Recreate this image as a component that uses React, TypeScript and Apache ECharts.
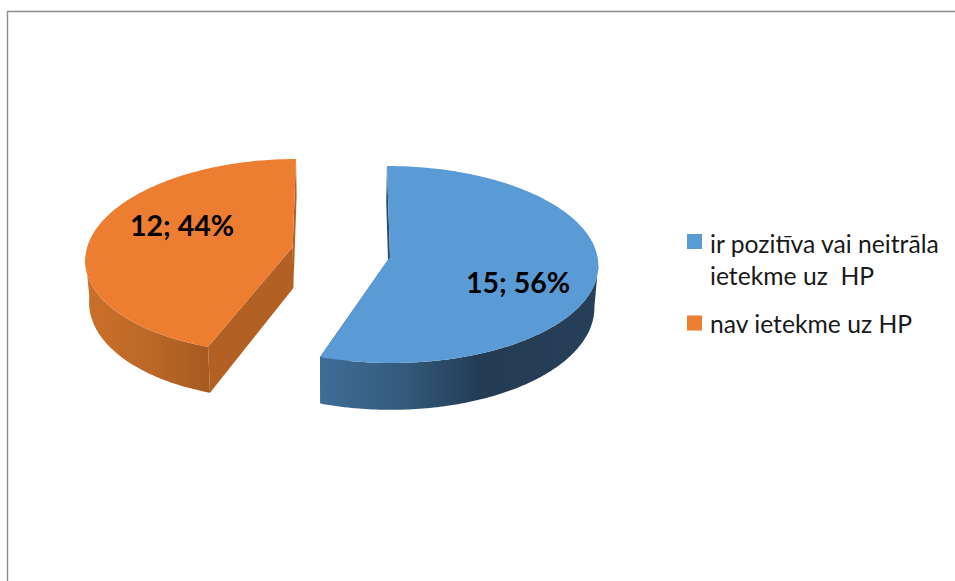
import React, { useEffect, useRef } from "react";
import * as echarts from "echarts";

const categories = ["ir pozitīva vai neitrāla\nietekme uz  HP", "nav ietekme uz HP"];
const values = [15, 12];

const FONT = "Lato, Carlito, Calibri, sans-serif";
const total = values.reduce((a, b) => a + b, 0);
const VANISH_X = 340;

// projection of each exploded slice: ellipse centre, radii, perspective shear
const geometry = [
  { cx: 389.3, cy: 264.5, rx: 209, ry: 98.5, k: 0.024, ax: 390, ay: 257, lx: 518, ly: 282,
    top: "#5B9BD5", wall: "#2A4A68",
    rim: [[0, "#3F6D96"], [0.3, "#335A7C"], [0.58, "#233B53"], [1, "#274059"]] },
  { cx: 286, cy: 255.8, rx: 200.5, ry: 96.8, k: -0.103, ax: 292.7, ay: 247, lx: 182, ly: 225,
    top: "#ED7D31", wall: "#B36024",
    rim: [[0, "#CB7029"], [0.5, "#BC6827"], [1, "#A65A20"]] },
];

const rad = (d: number) => (d * Math.PI) / 180;

function sliceGroup(index: number, value: number) {
  const g = geometry[index];
  const before = values.slice(0, index).reduce((a, b) => a + b, 0);
  const a0 = (before / total) * 360;
  const a1 = a0 + (value / total) * 360;
  const rimPoint = (t: number) => {
    const y = g.cy - g.ry * Math.cos(rad(t));
    return [g.cx + g.rx * Math.sin(rad(t)) + g.k * (y - g.cy), y];
  };
  const lower = (p: number[]) => [
    VANISH_X + (p[0] - VANISH_X) * 0.985,
    p[1] + 41 + (p[1] - 247) * 0.05,
  ];
  const arc = (from: number, to: number) => {
    const n = Math.max(2, Math.ceil(to - from));
    const pts: number[][] = [];
    for (let i = 0; i <= n; i++) pts.push(rimPoint(from + ((to - from) * i) / n));
    return pts;
  };
  const apex = [g.ax, g.ay];
  const wallOf = (p: number[]) => ({
    type: "polygon",
    shape: { points: [apex, p, lower(p), lower(apex)] },
    style: { fill: g.wall },
  });
  const visible = arc(Math.max(a0, 90), Math.min(a1, 270));
  const rimPoly = visible.concat(visible.map(lower).reverse());
  const text = `${value}; ${Math.round((value / total) * 100)}%`;
  return {
    type: "group",
    children: [
      wallOf(rimPoint(a0)),
      wallOf(rimPoint(a1)),
      {
        type: "polygon",
        shape: { points: rimPoly },
        style: {
          fill: {
            type: "linear", x: 0, y: 0, x2: 1, y2: 0,
            colorStops: g.rim.map(([offset, color]) => ({ offset, color })),
          },
        },
      },
      {
        type: "polygon",
        shape: { points: [apex, ...arc(a0, a1)] },
        style: { fill: g.top },
      },
      {
        type: "text",
        x: g.lx,
        y: g.ly,
        style: {
          text,
          fill: "#000",
          font: `bold 28.5px ${FONT}`,
          align: "center",
          verticalAlign: "middle",
        },
      },
    ],
  };
}

export default function App() {
  const ref = useRef<HTMLDivElement>(null);
  useEffect(() => {
    document.body.style.margin = "0";
    document.body.style.background = "#fff";
    const chart = echarts.init(ref.current!, undefined, { renderer: "svg" });
    const legendText = { fontFamily: FONT, fontSize: 24.7, color: "#1a1a1a", lineHeight: 32 };
    chart.setOption({
      animation: false,
      backgroundColor: "#fff",
      legend: [
        {
          data: [categories[0]],
          left: 687,
          top: 227,
          padding: 0,
          itemGap: 0,
          itemWidth: 18,
          itemHeight: 50,
          icon: "path://M0 0H15V15H0ZM18 50H18V50H18Z",
          textStyle: legendText,
          selectedMode: false,
        },
        {
          data: [categories[1]],
          left: 687,
          top: 307,
          padding: 0,
          itemWidth: 18,
          itemHeight: 15,
          icon: "path://M0 0H15V15H0ZM18 15H18V15H18Z",
          textStyle: legendText,
          selectedMode: false,
        },
      ],
      graphic: [
        {
          type: "polyline",
          shape: { points: [[7.5, 581], [7.5, 11.5], [955, 11.5]] },
          style: { stroke: "#8c8c8c", lineWidth: 1.4, fill: "none" },
          silent: true,
        },
      ],
      series: categories.map((name, i) => ({
        type: "custom",
        name,
        coordinateSystem: "none",
        silent: true,
        itemStyle: { color: geometry[i].top },
        data: [values[i]],
        renderItem: (_p: any, api: any) => sliceGroup(i, api.value(0)),
      })),
    });
    return () => chart.dispose();
  }, []);
  return (
    <div
      ref={ref}
      style={{ position: "absolute", left: 0, top: 0, width: 955, height: 581 }}
    />
  );
}
